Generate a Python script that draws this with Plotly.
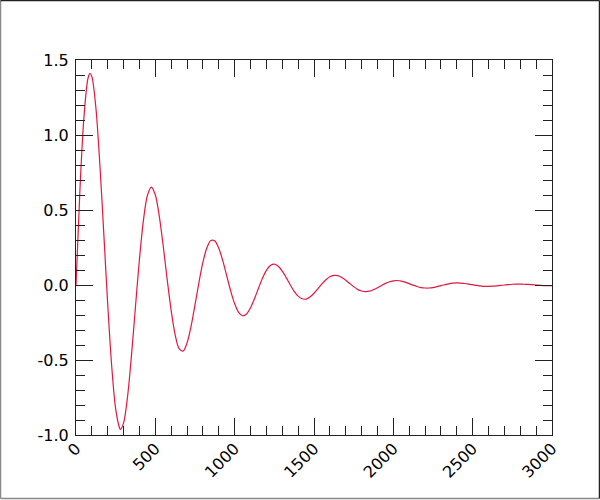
import plotly.graph_objects as go

# Значения (затухающее колебание), шаг ~25 + экстремумы
x_vals = [0, 25, 50, 75, 88, 100, 125, 150, 175, 200, 225, 250, 275, 280, 300,
          325, 350, 375, 400, 425, 450, 475, 500, 525, 550, 575, 600, 625, 650,
          675, 700, 725, 750, 775, 800, 825, 850, 875, 900, 925, 950, 975,
          1000, 1025, 1050, 1075, 1100, 1125, 1150, 1175, 1200, 1225, 1250,
          1275, 1300, 1325, 1350, 1375, 1400, 1425, 1450, 1475, 1500, 1525,
          1550, 1575, 1600, 1625, 1650, 1675, 1700, 1725, 1750, 1775, 1800,
          1825, 1850, 1875, 1900, 1925, 1950, 1975, 2000, 2025, 2050, 2075,
          2100, 2125, 2150, 2175, 2200, 2225, 2250, 2275, 2300, 2325, 2350,
          2375, 2400, 2425, 2450, 2475, 2500, 2525, 2550, 2575, 2600, 2625,
          2650, 2675, 2700, 2725, 2750, 2775, 2800, 2825, 2850, 2875, 2900,
          2925, 2950, 2975, 3000]
y_vals = [0.0, 0.640, 1.118, 1.375, 1.411, 1.389, 1.185, 0.810, 0.346, -0.130,
          -0.540, -0.826, -0.954, -0.962, -0.919, -0.743, -0.466, -0.142,
          0.173, 0.431, 0.597, 0.653, 0.600, 0.458, 0.257, 0.034, -0.172,
          -0.332, -0.424, -0.441, -0.386, -0.276, -0.132, 0.018, 0.152, 0.248,
          0.297, 0.294, 0.245, 0.162, 0.061, -0.040, -0.125, -0.182, -0.205,
          -0.193, -0.152, -0.091, -0.022, 0.045, 0.098, 0.130, 0.139, 0.125,
          0.093, 0.049, 0.002, -0.042, -0.074, -0.092, -0.094, -0.080, -0.055,
          -0.024, 0.008, 0.035, 0.055, 0.064, 0.062, 0.050, 0.032, 0.010,
          -0.011, -0.029, -0.040, -0.044, -0.041, -0.031, -0.018, -0.003,
          0.011, 0.022, 0.028, 0.030, 0.026, 0.019, 0.009, -0.001, -0.010,
          -0.017, -0.020, -0.020, -0.017, -0.011, -0.004, 0.002, 0.008, 0.012,
          0.014, 0.013, 0.010, 0.006, 0.002, -0.003, -0.006, -0.009, -0.009,
          -0.008, -0.006, -0.003, 0.000, 0.003, 0.005, 0.006, 0.006, 0.005,
          0.004, 0.002, 0.000, -0.002, -0.004, -0.004, -0.004]

x_ticks = [0, 500, 1000, 1500, 2000, 2500, 3000]
y_ticks = [-1.0, -0.5, 0.0, 0.5, 1.0, 1.5]
y_labels = ['-1.0', '-0.5', '0.0', '0.5', '1.0', '1.5']

W, H = 600, 500
ml, mr, mt, mb = 76, 48, 60, 65
pw, ph = W - ml - mr, H - mt - mb

fig = go.Figure(go.Scatter(
    x=x_vals, y=y_vals, mode='lines',
    line=dict(color='#e3183f', width=1.2, shape='spline', smoothing=0.9),
    hoverinfo='skip'
))

axis_common = dict(
    showgrid=False, zeroline=False, showline=True, linecolor='#222', linewidth=1,
    mirror='ticks', ticks='inside', ticklen=17, tickwidth=1, tickcolor='#222',
    tickfont=dict(family='DejaVu Sans', size=16, color='black'),
    minor=dict(ticks='inside', ticklen=9, tickwidth=1, tickcolor='#222', showgrid=False),
)

fig.update_xaxes(range=[0, 3000], tickvals=x_ticks, tickangle=-45,
                 minor_dtick=100, ticklabelstandoff=-3, **axis_common)
fig.update_yaxes(range=[-1.0, 1.5], tickvals=y_ticks, ticktext=y_labels,
                 minor_dtick=0.1, ticklabelstandoff=3, **axis_common)

# рамка вокруг всей картинки
def px2paper_x(p):
    return (p - ml) / pw

def px2paper_y(p):
    return (H - mb - p) / ph

frame = [
    (0.5, 0.5, 0.5, H - 1.5, '#888'),          # слева
    (0.5, H - 1.5, W - 0.5, H - 1.5, '#888'),  # снизу
    (0.5, 0.5, W - 0.5, 0.5, '#222'),          # сверху
    (W - 0.5, 0.5, W - 0.5, H - 1.5, '#222'),  # справа
]
shapes = []
for x0, y0, x1, y1, c in frame:
    shapes.append(dict(type='line', xref='paper', yref='paper',
                       x0=px2paper_x(x0), y0=px2paper_y(y0),
                       x1=px2paper_x(x1), y1=px2paper_y(y1),
                       line=dict(color=c, width=1.5)))

fig.update_layout(
    width=W, height=H,
    margin=dict(l=ml, r=mr, t=mt, b=mb),
    plot_bgcolor='white', paper_bgcolor='white',
    showlegend=False, shapes=shapes,
)

fig.write_html("out.html", config={'displayModeBar': False},
               post_script="document.body.style.margin='0px';")
